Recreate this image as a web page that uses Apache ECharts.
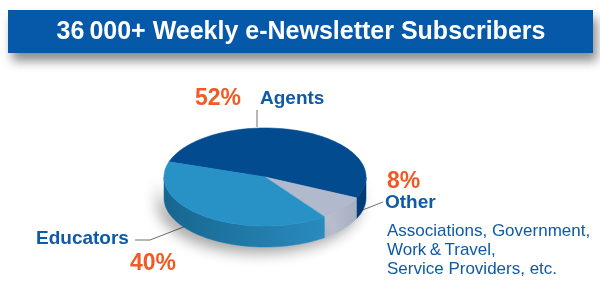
<!DOCTYPE html>
<html><head><meta charset="utf-8">
<script src="https://cdn.jsdelivr.net/npm/echarts@6/dist/echarts.min.js"></script>
<style>html,body{margin:0;padding:0;background:#fff}#c{width:600px;height:306px}</style>
</head><body><div id="c"></div>
<script>
const titleText = '36\u202f000+ Weekly e-Newsletter Subscribers';
const categories = ['Agents', 'Other', 'Educators'];
const values = [52, 8, 40];
const pctLabels = ['52%', '8%', '40%'];
const otherDetail = ['Associations, Government,', 'Work\u2009&\u2009Travel,', 'Service Providers, etc.'];

const topColors = ['#024b8f', '#b1b9cc', '#2892c7'];
const sideColors = [['#00427f', '#003a72'], ['#bcc3d2', '#a9b1c4'], ['#176790', '#2a8cc0']];
const CX = 265, CY = 177, RX = 101, RY = 49, T = 21, START = 162;
const total = values.reduce((a, b) => a + b, 0);

function pt(deg, dy) {
  const r = deg * Math.PI / 180;
  return [CX + RX * Math.cos(r), CY - RY * Math.sin(r) + (dy || 0)];
}
function arc(a, b, dy) {
  const n = Math.max(2, Math.ceil(Math.abs(b - a) / 1.5));
  const pts = [];
  for (let k = 0; k <= n; k++) pts.push(pt(a + (b - a) * k / n, dy));
  return pts;
}
function sliceRange(i, vals) {
  let before = 0;
  for (let j = 0; j < i; j++) before += vals[j];
  const s = START - before / total * 360;
  const e = s - vals[i] / total * 360;
  return [s, e];
}

const chart = echarts.init(document.getElementById('c'), null, {renderer: 'canvas'});
const seriesData = categories.map((c, i) => ({name: c, value: values[i]}));

function renderSide(params, api) {
  const i = params.dataIndex;
  const [s, e] = sliceRange(i, values);
  const children = [];
  for (const k of [-720, -360, 0, 360]) {
    const lo = Math.max(e, -180 + k), hi = Math.min(s, 0 + k);
    if (hi > lo) {
      const topArc = arc(hi, lo, 0);
      const botArc = arc(lo, hi, T);
      const grad = new echarts.graphic.LinearGradient(0, 0, 1, 0, [
        {offset: 0, color: sideColors[i][0]}, {offset: 1, color: sideColors[i][1]}]);
      children.push({
        type: 'polygon',
        shape: {points: topArc.concat(botArc)},
        style: {
          fill: grad, stroke: grad, lineWidth: 0.5,
          shadowBlur: 14, shadowColor: 'rgba(0,0,0,0.35)', shadowOffsetX: -6, shadowOffsetY: 6
        }
      });
    }
  }
  return {type: 'group', children};
}
function renderTop(params, api) {
  const i = params.dataIndex;
  const [s, e] = sliceRange(i, values);
  const pts = [[CX, CY]].concat(arc(s, e, 0));
  return {
    type: 'polygon',
    shape: {points: pts},
    style: {fill: topColors[i], stroke: topColors[i], lineWidth: 0.6}
  };
}

const blue = '#0d5aa7', orange = '#f15a24', lineCol = '#6e6e6e';
const txt = (x, y, text, size, weight, color, align) => ({
  type: 'text', x, y, z: 10,
  style: {text, fill: color, font: `${weight} ${size}px "Liberation Sans", Arial, sans-serif`,
    align: align || 'left', verticalAlign: 'middle'}
});

const graphics = [
  {type: 'rect', shape: {x: 8, y: 10, width: 585, height: 43}, z: 1,
    style: {fill: '#0659a8', shadowBlur: 10, shadowColor: 'rgba(0,0,0,0.45)', shadowOffsetX: 4, shadowOffsetY: 8}},
  txt(301, 32, titleText, 25, 'bold', '#ffffff', 'center'),
  {type: 'polyline', z: 0, shape: {points: [[257, 110], [257, 127]]}, style: {stroke: lineCol, lineWidth: 1}},
  {type: 'polyline', z: 0, shape: {points: [[360, 211], [383, 202]]}, style: {stroke: lineCol, lineWidth: 1}},
  {type: 'polyline', z: 0, shape: {points: [[135, 240], [150, 240], [186, 226]]}, style: {stroke: lineCol, lineWidth: 1}},
  txt(195, 99, pctLabels[0], 23, 'bold', orange),
  txt(260, 99, categories[0], 19, 'bold', blue),
  txt(387, 182, pctLabels[1], 23, 'bold', orange),
  txt(385, 203, categories[1], 19, 'bold', blue),
  txt(36, 239, categories[2], 19, 'bold', blue),
  txt(130, 264, pctLabels[2], 23, 'bold', orange)
];
otherDetail.forEach((l, k) => graphics.push(txt(387, 231 + k * 19, l, 17, 'normal', blue)));

chart.setOption({
  animation: false,
  graphic: graphics,
  series: [
    {type: 'custom', coordinateSystem: 'none', renderItem: renderSide, data: seriesData, z: 1, silent: true},
    {type: 'custom', coordinateSystem: 'none', renderItem: renderTop, data: seriesData, z: 2, silent: true}
  ]
});
</script>
</body></html>
